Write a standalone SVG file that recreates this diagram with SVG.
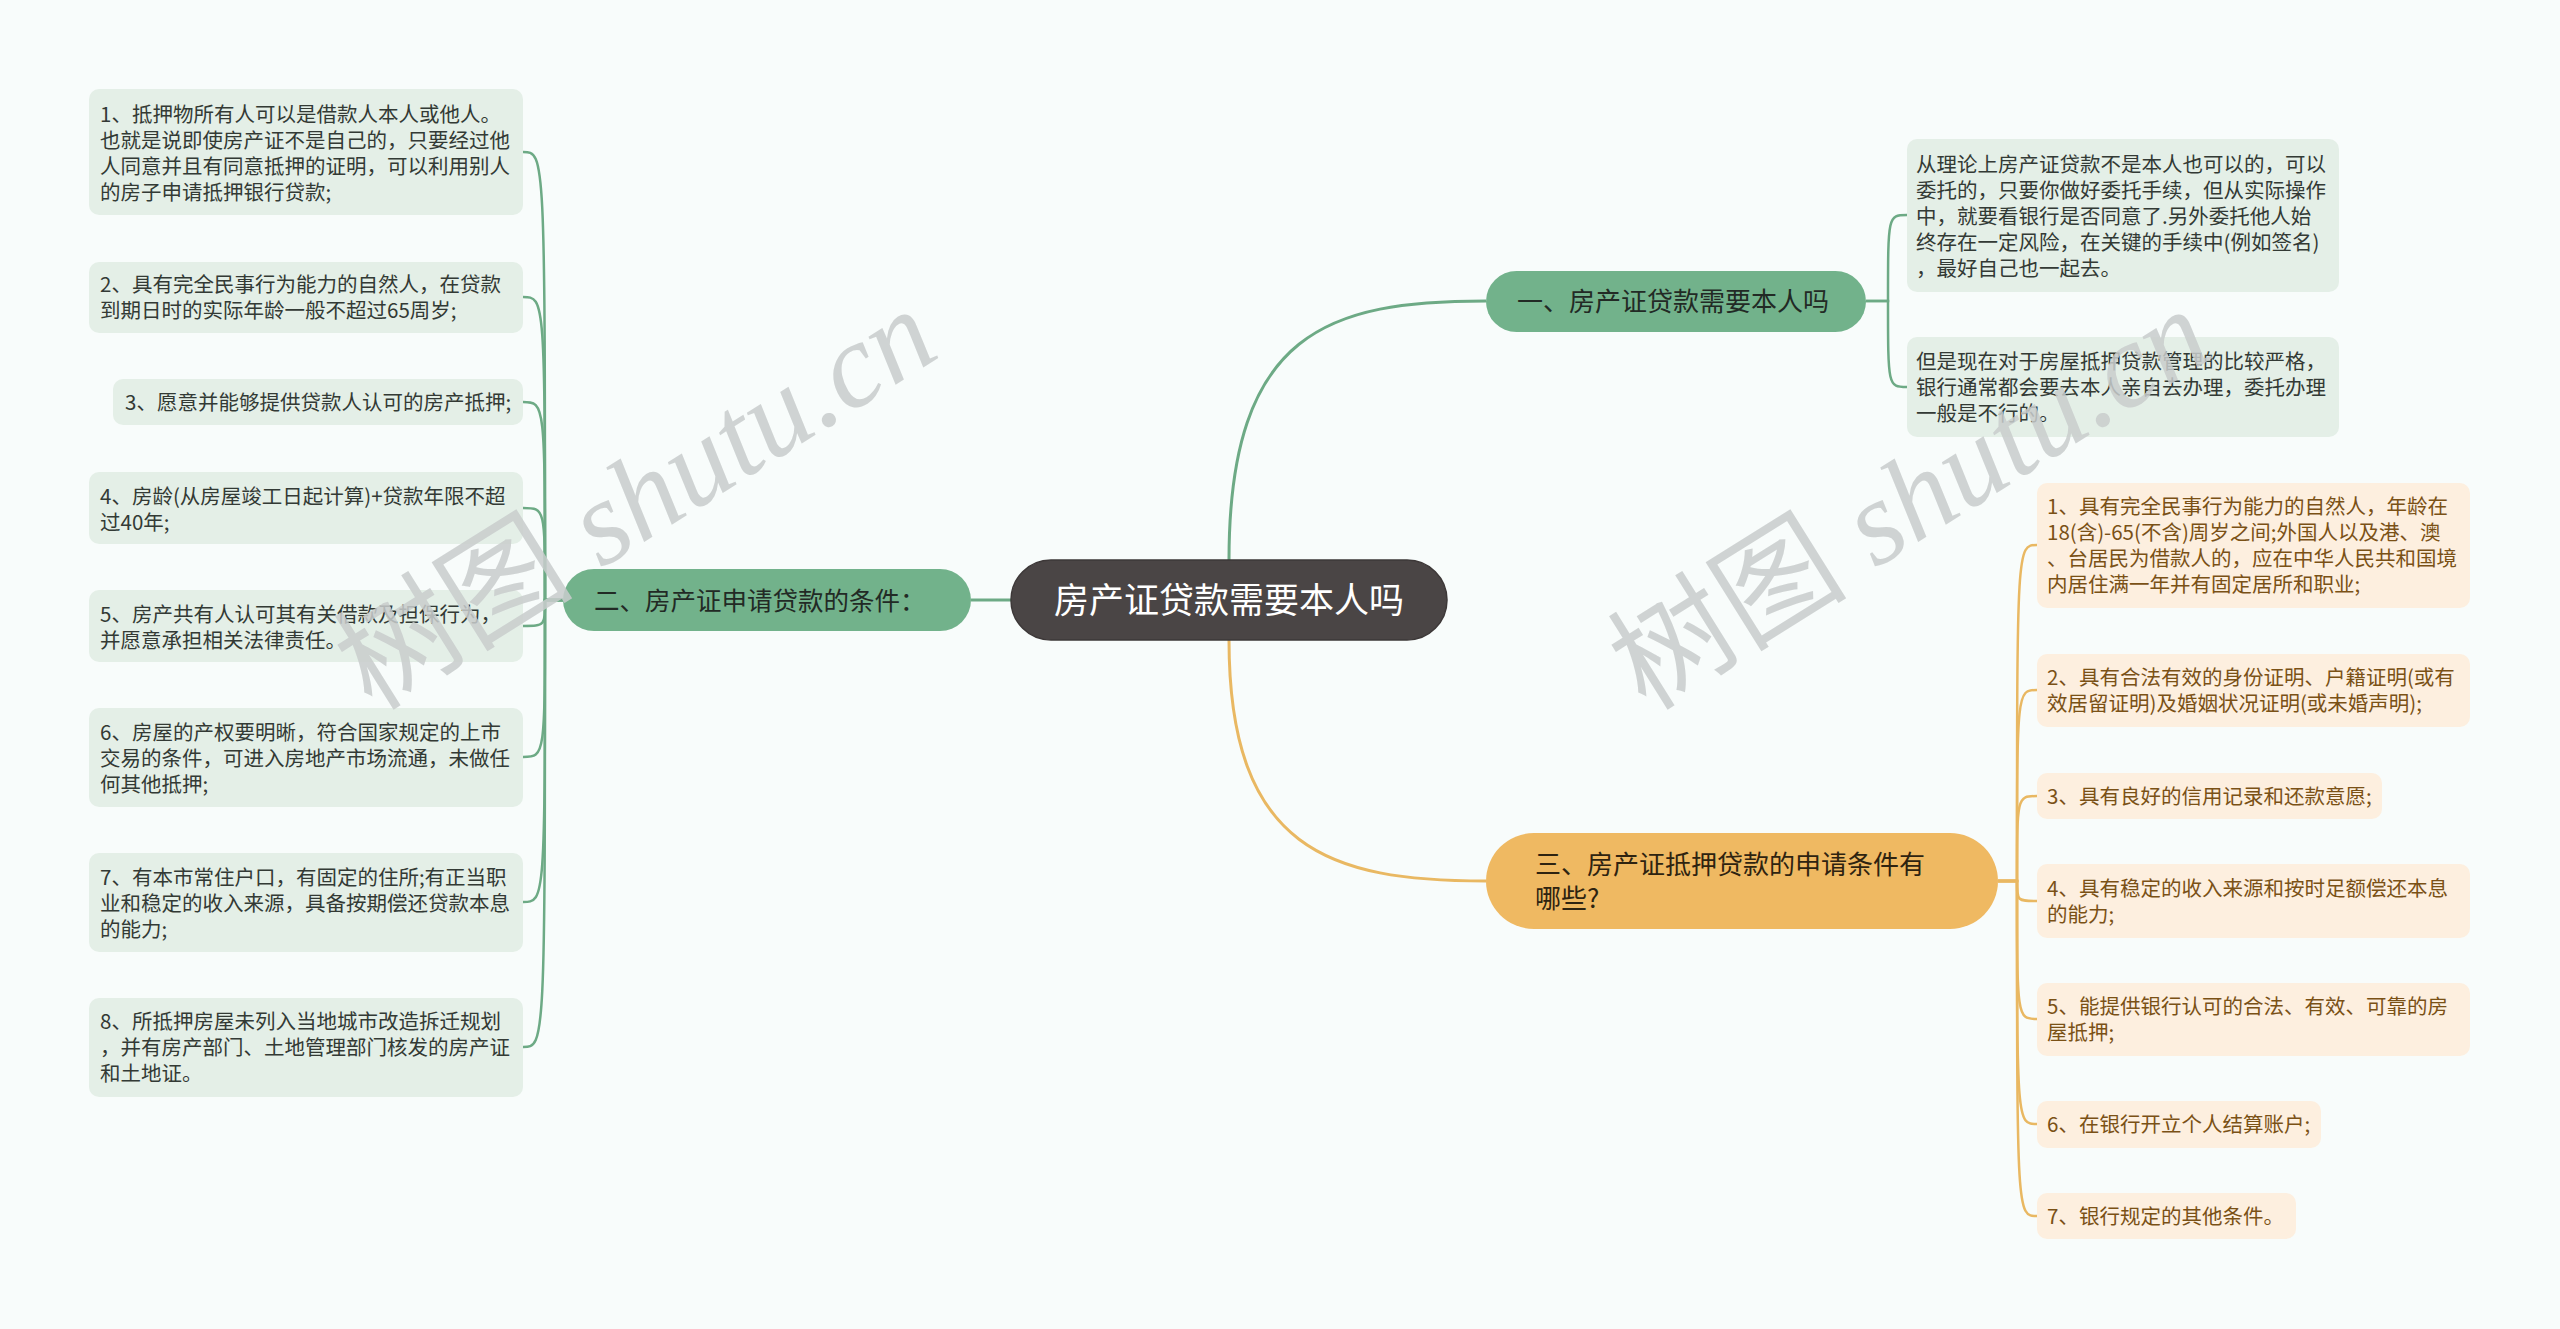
<svg xmlns="http://www.w3.org/2000/svg" width="2560" height="1329" viewBox="0 0 2560 1329">
<style>
text{font-family:"Noto Sans CJK SC","Noto Sans",sans-serif;}
.root{fill:#4a4545;stroke:#3d3838;stroke-width:1.5}
.rootT{fill:#ffffff;font-size:35px}
.gB{fill:#72b28b}
.oB{fill:#efb962}
.bT{fill:#222a25;font-size:26px}
.oT{fill:#2e2310;font-size:26px}
.gC{fill:#e4efe7}
.oC{fill:#fdefdf}
.gt{fill:#333a35;font-size:20.5px}
.ot{fill:#7a5116;font-size:20.5px}
.lg{fill:none;stroke:#6daa85;stroke-width:2.5}
.lo{fill:none;stroke:#e9b862;stroke-width:2.5}
.wm{fill:#c9cdcd;opacity:0.85;font-size:120px}
.wml{font-family:"Liberation Serif",serif;font-style:italic}
.wmc{font-family:"Noto Sans CJK SC",serif}
</style>
<rect x="0" y="0" width="2560" height="1329" fill="#f8fcfb"/>

<g id="connectors">
  <path class="lg" d="M1011,600 H971" style="stroke-width:3"/>
  <path class="lg" d="M1229,600 V560 C1229,330 1330,301 1486,301" style="stroke-width:3"/>
  <path class="lo" d="M1229,600 V640 C1229,850 1330,881 1486,881" style="stroke-width:3"/>
  <path class="lg" d="M563,600 H545 C545,152 545,152 523,152"/>
  <path class="lg" d="M563,600 H545 C545,297 545,297 523,297"/>
  <path class="lg" d="M563,600 H545 C545,402 545,402 523,402"/>
  <path class="lg" d="M563,600 H545 C545,508 545,508 523,508"/>
  <path class="lg" d="M563,600 H545 C545,626 545,626 523,626"/>
  <path class="lg" d="M563,600 H545 C545,757 545,757 523,757"/>
  <path class="lg" d="M563,600 H545 C545,902 545,902 523,902"/>
  <path class="lg" d="M563,600 H545 C545,1047 545,1047 523,1047"/>
  <path class="lg" d="M1866,301 H1888 C1888,215 1888,215 1907,215"/>
  <path class="lg" d="M1866,301 H1888 C1888,387 1888,387 1907,387"/>
  <path class="lo" d="M1998,881 H2017 C2017,545 2017,545 2037,545"/>
  <path class="lo" d="M1998,881 H2017 C2017,690 2017,690 2037,690"/>
  <path class="lo" d="M1998,881 H2017 C2017,796 2017,796 2037,796"/>
  <path class="lo" d="M1998,881 H2017 C2017,901 2017,901 2037,901"/>
  <path class="lo" d="M1998,881 H2017 C2017,1019 2017,1019 2037,1019"/>
  <path class="lo" d="M1998,881 H2017 C2017,1124 2017,1124 2037,1124"/>
  <path class="lo" d="M1998,881 H2017 C2017,1216 2017,1216 2037,1216"/>
</g>

<g id="root">
  <rect class="root" x="1011" y="560" width="436" height="80" rx="40"/>
  <text class="rootT" x="1229" y="613" text-anchor="middle">房产证贷款需要本人吗</text>
</g>

<g id="branch1">
  <rect class="gB" x="1486" y="271" width="380" height="61" rx="30.5"/>
  <text class="bT" x="1517" y="311">一、房产证贷款需要本人吗</text>
</g>
<g id="branch2">
  <rect class="gB" x="563" y="569" width="408" height="62" rx="31"/>
  <text class="bT" x="594" y="610" style="font-size:25.5px">二、房产证申请贷款的条件：</text>
</g>
<g id="branch3">
  <rect class="oB" x="1486" y="833" width="512" height="96" rx="48"/>
  <text class="oT" x="1535" y="874">三、房产证抵押贷款的申请条件有</text>
  <text class="oT" x="1535" y="908">哪些?</text>
</g>

<g id="b1c1">
  <rect class="gC" x="1907" y="139" width="432" height="153" rx="10"/>
  <text class="gt" x="1916" y="172">从理论上房产证贷款不是本人也可以的，可以</text>
  <text class="gt" x="1916" y="198">委托的，只要你做好委托手续，但从实际操作</text>
  <text class="gt" x="1916" y="224">中，就要看银行是否同意了.另外委托他人始</text>
  <text class="gt" x="1916" y="250">终存在一定风险，在关键的手续中(例如签名)</text>
  <text class="gt" x="1916" y="276">，最好自己也一起去。</text>
</g>
<g id="b1c2">
  <rect class="gC" x="1907" y="337" width="432" height="100" rx="10"/>
  <text class="gt" x="1916" y="369">但是现在对于房屋抵押贷款管理的比较严格，</text>
  <text class="gt" x="1916" y="395">银行通常都会要去本人亲自去办理，委托办理</text>
  <text class="gt" x="1916" y="421">一般是不行的。</text>
</g>

<g id="b2c1">
  <rect class="gC" x="89" y="89" width="434" height="126" rx="10"/>
  <text class="gt" x="100" y="122">1、抵押物所有人可以是借款人本人或他人。</text>
  <text class="gt" x="100" y="148">也就是说即使房产证不是自己的，只要经过他</text>
  <text class="gt" x="100" y="174">人同意并且有同意抵押的证明，可以利用别人</text>
  <text class="gt" x="100" y="200">的房子申请抵押银行贷款;</text>
</g>
<g id="b2c2">
  <rect class="gC" x="89" y="262" width="434" height="71" rx="10"/>
  <text class="gt" x="100" y="292">2、具有完全民事行为能力的自然人，在贷款</text>
  <text class="gt" x="100" y="318">到期日时的实际年龄一般不超过65周岁;</text>
</g>
<g id="b2c3">
  <rect class="gC" x="113" y="379" width="410" height="46" rx="10"/>
  <text class="gt" x="125" y="410">3、愿意并能够提供贷款人认可的房产抵押;</text>
</g>
<g id="b2c4">
  <rect class="gC" x="89" y="472" width="434" height="72" rx="10"/>
  <text class="gt" x="100" y="504">4、房龄(从房屋竣工日起计算)+贷款年限不超</text>
  <text class="gt" x="100" y="530">过40年;</text>
</g>
<g id="b2c5">
  <rect class="gC" x="89" y="590" width="434" height="72" rx="10"/>
  <text class="gt" x="100" y="622">5、房产共有人认可其有关借款及担保行为，</text>
  <text class="gt" x="100" y="648">并愿意承担相关法律责任。</text>
</g>
<g id="b2c6">
  <rect class="gC" x="89" y="708" width="434" height="99" rx="10"/>
  <text class="gt" x="100" y="740">6、房屋的产权要明晰，符合国家规定的上市</text>
  <text class="gt" x="100" y="766">交易的条件，可进入房地产市场流通，未做任</text>
  <text class="gt" x="100" y="792">何其他抵押;</text>
</g>
<g id="b2c7">
  <rect class="gC" x="89" y="853" width="434" height="99" rx="10"/>
  <text class="gt" x="100" y="885">7、有本市常住户口，有固定的住所;有正当职</text>
  <text class="gt" x="100" y="911">业和稳定的收入来源，具备按期偿还贷款本息</text>
  <text class="gt" x="100" y="937">的能力;</text>
</g>
<g id="b2c8">
  <rect class="gC" x="89" y="998" width="434" height="99" rx="10"/>
  <text class="gt" x="100" y="1029">8、所抵押房屋未列入当地城市改造拆迁规划</text>
  <text class="gt" x="100" y="1055">，并有房产部门、土地管理部门核发的房产证</text>
  <text class="gt" x="100" y="1081">和土地证。</text>
</g>

<g id="b3c1">
  <rect class="oC" x="2037" y="483" width="433" height="125" rx="10"/>
  <text class="ot" x="2047" y="514">1、具有完全民事行为能力的自然人，年龄在</text>
  <text class="ot" x="2047" y="540">18(含)-65(不含)周岁之间;外国人以及港、澳</text>
  <text class="ot" x="2047" y="566">、台居民为借款人的，应在中华人民共和国境</text>
  <text class="ot" x="2047" y="592">内居住满一年并有固定居所和职业;</text>
</g>
<g id="b3c2">
  <rect class="oC" x="2037" y="654" width="433" height="73" rx="10"/>
  <text class="ot" x="2047" y="685">2、具有合法有效的身份证明、户籍证明(或有</text>
  <text class="ot" x="2047" y="711">效居留证明)及婚姻状况证明(或未婚声明);</text>
</g>
<g id="b3c3">
  <rect class="oC" x="2037" y="773" width="345" height="46" rx="10"/>
  <text class="ot" x="2047" y="804">3、具有良好的信用记录和还款意愿;</text>
</g>
<g id="b3c4">
  <rect class="oC" x="2037" y="864" width="433" height="74" rx="10"/>
  <text class="ot" x="2047" y="896">4、具有稳定的收入来源和按时足额偿还本息</text>
  <text class="ot" x="2047" y="922">的能力;</text>
</g>
<g id="b3c5">
  <rect class="oC" x="2037" y="983" width="433" height="73" rx="10"/>
  <text class="ot" x="2047" y="1014">5、能提供银行认可的合法、有效、可靠的房</text>
  <text class="ot" x="2047" y="1040">屋抵押;</text>
</g>
<g id="b3c6">
  <rect class="oC" x="2037" y="1101" width="284" height="47" rx="10"/>
  <text class="ot" x="2047" y="1132">6、在银行开立个人结算账户;</text>
</g>
<g id="b3c7">
  <rect class="oC" x="2037" y="1193" width="259" height="46" rx="10"/>
  <text class="ot" x="2047" y="1224">7、银行规定的其他条件。</text>
</g>

<g id="watermarks">
  <text class="wm" transform="translate(372,712) rotate(-32)"><tspan class="wmc">树图</tspan><tspan class="wml"> shutu.cn</tspan></text>
  <text class="wm" transform="translate(1646,712) rotate(-32)"><tspan class="wmc">树图</tspan><tspan class="wml"> shutu.cn</tspan></text>
</g>
</svg>
